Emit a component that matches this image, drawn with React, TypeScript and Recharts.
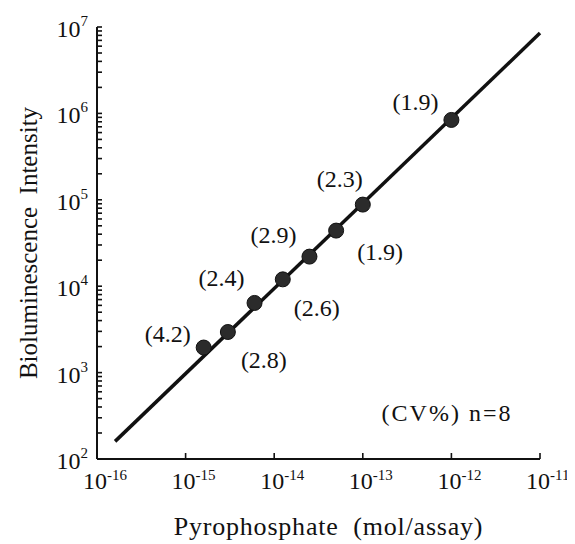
import { Label, Scatter, ScatterChart, XAxis, YAxis } from "recharts";

// pyrophosphate amount (mol/assay) and measured intensity
const concentration = [1.6e-15, 3e-15, 6e-15, 1.25e-14, 2.5e-14, 5e-14, 1e-13, 1e-12];
const intensity = [1950, 2950, 6400, 12000, 22000, 44000, 88000, 840000];
const cvLabels = ["(4.2)", "(2.8)", "(2.4)", "(2.6)", "(2.9)", "(1.9)", "(2.3)", "(1.9)"];

// regression line end points
const fitX = [1.6e-16, 1e-11];
const fitY = [160, 8.5e6];

const xTicks = [1e-16, 1e-15, 1e-14, 1e-13, 1e-12, 1e-11];
const yDecades = [2, 3, 4, 5, 6, 7];
const note = "(CV%) n=8";

const FONT = '"Liberation Serif", "Times New Roman", serif';
const INK = "#111";

// where each CV label sits relative to its dot
const labelOffsets = [
  [-36, -14],
  [36, 28],
  [-33, -25],
  [34, 29],
  [-36, -22],
  [44, 21],
  [-23, -26],
  [-36, -18],
];

const points = concentration.map((x, i) => ({ x, y: intensity[i], cv: cvLabels[i] }));
const fitLine = fitX.map((x, i) => ({ x, y: fitY[i] }));

// major + minor ticks on the log y axis
const yTicks: number[] = [];
yDecades.forEach((d) => {
  if (d === 7) {
    yTicks.push(1e7);
    return;
  }
  for (let m = 1; m < 10; m++) yTicks.push(m * Math.pow(10, d));
});

const isMajor = (v: number) => {
  const l = Math.log10(v);
  return Math.abs(l - Math.round(l)) < 1e-6;
};

const YTick = (props: any) => {
  const { x, y, payload } = props;
  const v = payload.value;
  const major = isMajor(v);
  return (
    <g>
      <line x1={x} x2={x + 5} y1={y} y2={y} stroke={INK} strokeWidth={1.6} />
      {major && (
        <text x={x - 9} y={y + 10} textAnchor="end" fontFamily={FONT} fontSize={24} fill={INK}>
          10
          <tspan dy={-11} fontSize={15}>
            {Math.round(Math.log10(v))}
          </tspan>
        </text>
      )}
    </g>
  );
};

const XTick = (props: any) => {
  const { x, y, payload } = props;
  const e = Math.round(Math.log10(payload.value));
  return (
    <g>
      <line x1={x} x2={x} y1={y} y2={y - 6} stroke={INK} strokeWidth={1.6} />
      <text x={x - 14} y={y + 30} textAnchor="start" fontFamily={FONT} fontSize={24} fill={INK}>
        10
        <tspan dy={-9} fontSize={15}>
          {e}
        </tspan>
      </text>
    </g>
  );
};

const Dot = (props: any) => {
  const { cx, cy, payload } = props;
  const i = concentration.indexOf(payload.x);
  const [dx, dy] = labelOffsets[i] || [0, 0];
  return (
    <g>
      <circle cx={cx} cy={cy} r={7.5} fill="#2b2b2b" stroke={INK} strokeWidth={1} />
      <text
        x={cx + dx}
        y={cy + dy + 8}
        textAnchor="middle"
        fontFamily={FONT}
        fontSize={24}
        fill={INK}
      >
        {payload.cv}
      </text>
    </g>
  );
};

export default function App() {
  return (
    <ScatterChart width={567} height={536} margin={{ top: 19, right: 35, left: 0, bottom: 0 }}>
      <XAxis
        dataKey="x"
        type="number"
        scale="log"
        domain={[1e-16, 1e-11]}
        ticks={xTicks}
        interval={0}
        tick={<XTick />}
        tickLine={false}
        tickSize={0}
        tickMargin={0}
        axisLine={{ stroke: INK, strokeWidth: 2 }}
        height={85}
      >
        <Label
          content={({ viewBox }: any) => (
            <g>
              <text
                x={viewBox.x + viewBox.width / 2 + 10}
                y={viewBox.y + 76}
                textAnchor="middle"
                fontFamily={FONT}
                fontSize={26}
                letterSpacing={0.8}
                fill={INK}
                style={{ whiteSpace: "pre" }}
              >
                {"Pyrophosphate  (mol/assay)"}
              </text>
              <text
                x={viewBox.x + 350}
                y={viewBox.y - 38}
                textAnchor="middle"
                fontFamily={FONT}
                fontSize={24}
                letterSpacing={2}
                fill={INK}
                style={{ whiteSpace: "pre" }}
              >
                {note}
              </text>
            </g>
          )}
        />
      </XAxis>
      <YAxis
        dataKey="y"
        type="number"
        scale="log"
        domain={[1e2, 1e7]}
        ticks={yTicks}
        interval={0}
        tick={<YTick />}
        tickLine={false}
        tickSize={0}
        tickMargin={0}
        axisLine={{ stroke: INK, strokeWidth: 2 }}
        width={89}
      >
        <Label
          content={({ viewBox }: any) => {
            const cx = viewBox.x + 20;
            const cy = viewBox.y + viewBox.height / 2;
            return (
              <text
                x={cx}
                y={cy}
                transform={`rotate(-90 ${cx} ${cy})`}
                textAnchor="middle"
                dominantBaseline="central"
                fontFamily={FONT}
                fontSize={25}
                fill={INK}
                style={{ whiteSpace: "pre" }}
              >
                {"Bioluminescence  Intensity"}
              </text>
            );
          }}
        />
      </YAxis>
      <Scatter
        data={fitLine}
        line={{ stroke: INK, strokeWidth: 3.5 }}
        shape={() => <g />}
        isAnimationActive={false}
      />
      <Scatter data={points} shape={<Dot />} isAnimationActive={false} />
    </ScatterChart>
  );
}
